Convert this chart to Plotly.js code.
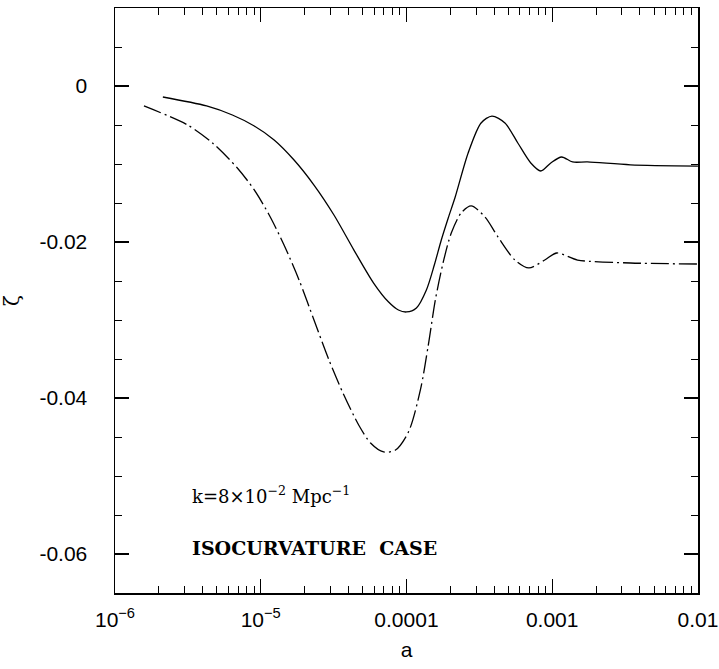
<!DOCTYPE html>
<html>
<head>
<meta charset="utf-8">
<script src="https://cdn.plot.ly/plotly-3.0.1.min.js"></script>
<style>html,body{margin:0;padding:0;background:#fff}#chart{width:719px;height:669px}</style>
</head>
<body>
<div id="chart"></div>
<script>
// Solid curve
const solidA = [2.13e-6, 4.25e-6, 6.39e-6, 9.03e-6, 1.236e-5, 1.693e-5, 2.32e-5, 3.18e-5, 4.35e-5, 5.95e-5, 7.54e-5, 8.81e-5, 1.0e-4, 1.17e-4, 1.37e-4, 1.553e-4, 1.734e-4, 1.935e-4, 2.16e-4, 2.65e-4, 3.25e-4, 3.86e-4, 4.74e-4, 5.81e-4, 7.13e-4, 8.35e-4, 9.78e-4, 1.16e-3, 1.38e-3, 1.745e-3, 3.44e-3, 1.0e-2];
const solidZeta = [-0.00141, -0.00256, -0.00372, -0.00513, -0.00692, -0.00949, -0.0127, -0.01654, -0.0210, -0.02526, -0.0277, -0.02872, -0.02897, -0.02846, -0.02615, -0.02295, -0.01974, -0.01692, -0.01423, -0.00859, -0.00474, -0.00385, -0.00474, -0.00731, -0.00987, -0.0109, -0.00987, -0.0091, -0.00974, -0.00974, -0.0101, -0.01026];
// Dash-dot curve
const dashA = [1.58e-6, 3.15e-6, 4.67e-6, 6.91e-6, 9.03e-6, 1.143e-5, 1.445e-5, 1.833e-5, 2.32e-5, 2.94e-5, 3.72e-5, 4.70e-5, 5.67e-5, 6.97e-5, 8.41e-5, 1.032e-4, 1.246e-4, 1.413e-4, 1.578e-4, 1.789e-4, 2.03e-4, 2.373e-4, 2.78e-4, 3.46e-4, 4.25e-4, 5.55e-4, 6.91e-4, 8.89e-4, 1.074e-3, 1.493e-3, 3.44e-3, 1.0e-2];
const dashZeta = [-0.00256, -0.005, -0.00731, -0.01051, -0.01333, -0.01654, -0.02038, -0.02487, -0.03, -0.03513, -0.03962, -0.04346, -0.04577, -0.04692, -0.04667, -0.04436, -0.03897, -0.0332, -0.02744, -0.02256, -0.01885, -0.01628, -0.01538, -0.0168, -0.01936, -0.02231, -0.02333, -0.02231, -0.02141, -0.02231, -0.02269, -0.02282];

const xTickVals = [1e-6, 1e-5, 1e-4, 1e-3, 1e-2];
const xTickText = ['10<sup>−6</sup>', '10<sup>−5</sup>', '0.0001', '0.001', '0.01'];
const yTickVals = [0, -0.02, -0.04, -0.06];
const yTickText = ['0', '-0.02', '-0.04', '-0.06'];

const labelK = 'k=8×10<sup>−2</sup> Mpc<sup>−1</sup>';
const labelCase = '<b>ISOCURVATURE\u00a0 CASE</b>';

const traces = [
  {x: solidA, y: solidZeta, mode: 'lines', type: 'scatter', line: {color: '#000', width: 1.3, shape: 'spline', smoothing: 0.8}, showlegend: false, hoverinfo: 'skip'},
  {x: dashA, y: dashZeta, mode: 'lines', type: 'scatter', line: {color: '#000', width: 1.3, dash: '18px,4px,2px,4px', shape: 'spline', smoothing: 0.8}, showlegend: false, hoverinfo: 'skip'}
];

const axisFont = {family: 'Liberation Sans, Arial, sans-serif', size: 21, color: '#000'};

const layout = {
  width: 719, height: 669,
  margin: {l: 115, r: 21, t: 8, b: 76},
  paper_bgcolor: '#fff', plot_bgcolor: '#fff',
  showlegend: false,
  xaxis: {
    type: 'log', range: [-6, -1.9995],
    tickvals: xTickVals, ticktext: xTickText,
    ticks: 'inside', ticklen: 14, tickwidth: 1.2, tickcolor: '#000',
    minor: {ticks: 'inside', ticklen: 7, tickwidth: 1, tickcolor: '#000', dtick: 'D1', showgrid: false},
    showline: true, linecolor: '#000', linewidth: 1.5, mirror: 'ticks',
    showgrid: false, zeroline: false,
    tickfont: axisFont, ticklabelstandoff: 7, ticklabeloverflow: 'allow',
    title: {text: 'a', font: axisFont, standoff: 12}
  },
  yaxis: {
    range: [-0.065, 0.01],
    tickvals: yTickVals, ticktext: yTickText,
    ticks: 'inside', ticklen: 14, tickwidth: 1.2, tickcolor: '#000',
    minor: {ticks: 'inside', ticklen: 7, tickwidth: 1, tickcolor: '#000', dtick: 0.005, showgrid: false},
    showline: true, linecolor: '#000', linewidth: 1.5, mirror: 'ticks',
    showgrid: false, zeroline: false,
    tickfont: axisFont, ticklabelstandoff: 22,
    title: {text: 'ζ', font: {family: 'DejaVu Serif, serif', size: 20, color: '#000'}, standoff: 14}
  },
  annotations: [
    {xref: 'paper', yref: 'paper', x: 0.128, y: 0.168, xanchor: 'left', yanchor: 'middle', showarrow: false, text: labelK,
     font: {family: 'DejaVu Serif, serif', size: 18, color: '#000'}},
    {xref: 'paper', yref: 'paper', x: 0.128, y: 0.077, xanchor: 'left', yanchor: 'middle', showarrow: false, text: labelCase,
     font: {family: 'DejaVu Serif, serif', size: 19, color: '#000'}}
  ]
};

Plotly.newPlot('chart', traces, layout, {staticPlot: true, displayModeBar: false});
</script>
</body>
</html>
